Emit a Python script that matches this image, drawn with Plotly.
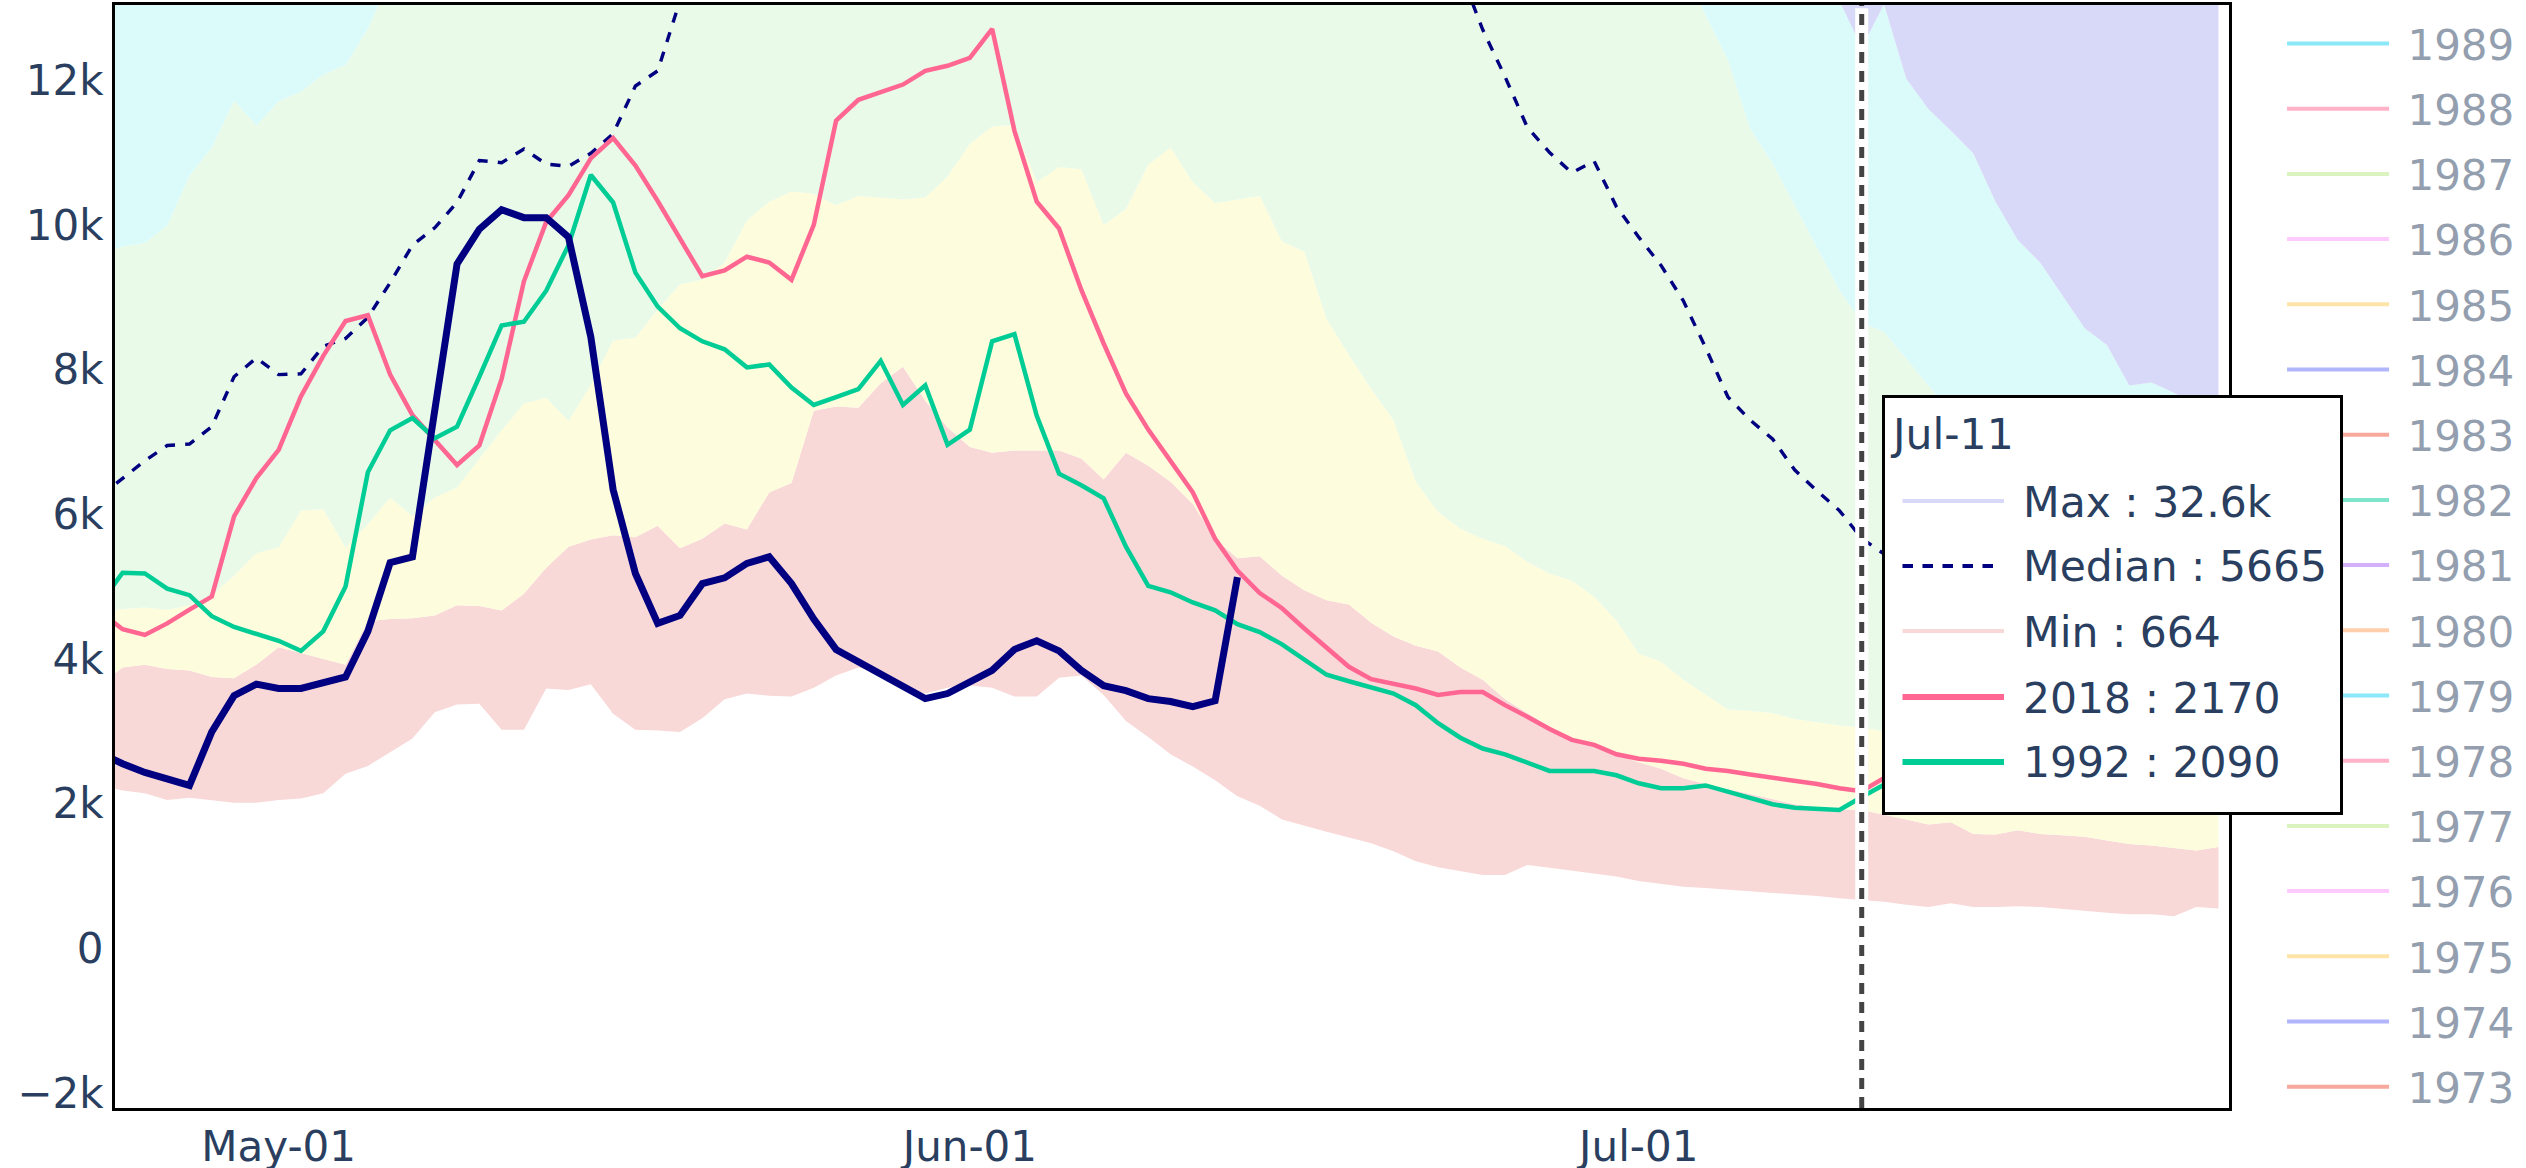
import numpy as np
import pandas as pd
import plotly.graph_objects as go

# daily values in thousands, Apr-23 .. Jul-27
dates = pd.date_range('2019-04-23', '2019-07-27', freq='D')

min_vals = [2.25, 2.18, 2.14, 2.05, 2.08, 2.05, 2.01, 2.01,
            2.05, 2.07, 2.14, 2.41, 2.52, 2.71, 2.90, 3.26, 3.37, 3.38, 3.02, 3.02, 3.59, 3.57, 3.65, 3.24,
            3.02, 3.01, 2.99, 3.18, 3.44, 3.52, 3.49, 3.48, 3.60, 3.77, 3.88, 3.80, 3.63, 3.52, 3.60,
            3.63, 3.60, 3.48, 3.48, 3.74, 3.77, 3.50, 3.14, 2.92, 2.68, 2.51, 2.32, 2.10, 1.97, 1.78,
            1.69, 1.61, 1.53, 1.45, 1.34, 1.20, 1.12, 1.07, 1.01, 1.01, 1.15, 1.11, 1.07, 1.03, 0.99,
            0.93, 0.89, 0.85, 0.83, 0.81, 0.78, 0.76, 0.74, 0.72, 0.69, 0.664, 0.64, 0.60, 0.57, 0.62,
            0.57, 0.57, 0.58, 0.57, 0.54, 0.51, 0.49, 0.47, 0.47, 0.44, 0.57, 0.55]
p10_vals = [3.65, 3.88, 3.92, 3.86, 3.84, 3.75, 3.73, 3.92,
            4.16, 4.08, 4.00, 3.92, 4.52, 4.55, 4.56, 4.60, 4.74, 4.73, 4.67, 4.90, 5.26, 5.55, 5.65, 5.71,
            5.68, 5.84, 5.53, 5.66, 5.87, 5.79, 6.30, 6.43, 7.43, 7.49, 7.47, 7.81, 8.04, 7.57, 7.20,
            6.93, 6.85, 6.88, 6.88, 6.88, 6.77, 6.48, 6.85, 6.67, 6.45, 6.14, 5.66, 5.39, 5.42, 5.15,
            4.95, 4.81, 4.75, 4.50, 4.31, 4.18, 4.10, 3.88, 3.71, 3.44, 3.25, 3.06, 2.90, 2.79, 2.68,
            2.57, 2.48, 2.35, 2.27, 2.20, 2.12, 2.05, 1.99, 1.95, 1.92, 1.91, 1.85, 1.78, 1.71, 1.74,
            1.58, 1.57, 1.63, 1.58, 1.56, 1.54, 1.49, 1.44, 1.42, 1.38, 1.35, 1.40]
p25_vals = [4.65, 4.69, 4.71, 4.68, 4.74, 4.88, 5.15, 5.46,
            5.54, 6.05, 6.07, 5.54, 5.86, 6.23, 5.97, 6.23, 6.37, 6.76, 7.16, 7.53, 7.61, 7.29, 7.79, 8.40,
            8.44, 8.83, 9.18, 9.24, 9.48, 10.06, 10.32, 10.46, 10.43, 10.27, 10.40, 10.38, 10.35, 10.38, 10.67,
            11.12, 11.36, 11.38, 10.59, 10.80, 10.77, 10.00, 10.22, 10.83, 11.07, 10.59, 10.30, 10.35, 10.40, 9.77,
            9.63, 8.70, 8.20, 7.73, 7.30, 6.45, 6.03, 5.80, 5.66, 5.56, 5.34, 5.18, 5.08, 4.86, 4.53,
            4.07, 3.96, 3.71, 3.50, 3.30, 3.28, 3.25, 3.17, 3.12, 3.08, 3.05, 3.00, 2.93, 2.91, 2.84,
            2.81, 2.74, 2.72, 2.66, 2.61, 2.57, 2.50, 2.47, 2.41, 2.38, 2.33, 2.31]
p75_vals = [9.60, 9.70, 9.75, 9.99, 10.68, 11.07, 11.72, 11.37,
            11.71, 11.84, 12.08, 12.21, 12.71, 13.40, 14.0, 14.5, 15.0, 15.6, 16.0, 16.5, 17.0, 17.3, 17.8, 18.4,
            19.0, 19.5, 20.0, 20.4, 20.8, 21.2, 21.6, 22.0, 22.3, 22.6, 22.8, 23.0, 23.1, 23.2, 23.2,
            23.1, 23.0, 22.8, 22.5, 22.2, 21.9, 21.5, 21.1, 20.7, 20.3, 19.9, 19.5, 19.0, 18.6, 18.2,
            17.8, 17.4, 17.0, 16.6, 16.3, 16.0, 15.7, 15.4, 15.1, 14.8, 14.6, 14.4, 14.2, 14.0, 13.9,
            13.8, 13.7, 13.55, 12.90, 12.28, 11.33, 10.85, 10.27, 9.69, 9.10, 8.65, 8.52, 8.15, 7.78, 7.40,
            7.00, 6.60, 6.30, 6.00, 5.70, 5.40, 5.20, 5.00, 4.80, 4.60, 4.40, 4.20]
p90_vals = [16.5, 16.8, 17.0, 17.4, 17.9, 18.3, 18.8, 19.0,
            19.3, 19.6, 20.0, 20.3, 20.8, 21.2, 21.7, 22.1, 22.6, 23.0, 23.5, 24.0, 24.5, 25.0, 25.4, 25.8,
            26.2, 26.6, 27.0, 27.3, 27.6, 27.9, 28.1, 28.3, 28.5, 28.6, 28.7, 28.8, 28.8, 28.7, 28.6,
            28.4, 28.2, 27.9, 27.6, 27.2, 26.8, 26.4, 26.0, 25.5, 25.0, 24.5, 24.0, 23.5, 23.0, 22.5,
            22.0, 21.5, 21.0, 20.5, 20.0, 19.5, 19.0, 18.5, 18.0, 17.6, 17.2, 16.8, 16.4, 16.0, 15.7,
            15.4, 15.1, 14.9, 14.7, 14.5, 14.4, 14.3, 14.2, 14.0, 13.10, 12.45, 13.05, 12.02, 11.60, 11.30,
            10.99, 10.32, 9.79, 9.48, 9.02, 8.57, 8.34, 7.78, 7.82, 7.68, 7.50, 7.40]
max_vals = [30.5, 31.0, 31.4, 31.9, 32.5, 33.0, 33.6, 34.0,
            34.5, 35.1, 35.8, 36.4, 37.0, 37.6, 38.3, 38.9, 39.5, 40.0, 40.6, 41.1, 41.5, 41.9, 42.2, 42.5,
            42.7, 42.9, 43.0, 43.1, 43.1, 43.0, 42.8, 42.6, 42.3, 42.0, 41.7, 41.3, 40.9, 40.5, 40.1,
            39.6, 39.1, 38.6, 38.1, 37.6, 37.1, 36.6, 36.2, 35.8, 35.4, 35.0, 34.7, 34.4, 34.1, 33.9,
            33.7, 33.5, 33.4, 33.3, 33.2, 33.1, 33.0, 32.95, 32.9, 32.85, 32.8, 32.78, 32.75, 32.72, 32.7,
            32.7, 32.68, 32.66, 32.65, 32.64, 32.63, 32.62, 32.61, 32.6, 32.6, 32.6, 32.0, 31.3, 30.5, 29.6,
            28.7, 27.8, 26.9, 26.0, 25.2, 24.4, 23.6, 22.9, 22.2, 21.5, 20.9, 20.3]
median_vals = [6.25, 6.50, 6.74, 6.95, 6.97, 7.21, 7.90, 8.16,
               7.93, 7.94, 8.32, 8.43, 8.72, 9.20, 9.72, 9.96, 10.31, 10.89, 10.86, 11.05, 10.84, 10.81, 10.99, 11.26,
               11.92, 12.13, 13.10, 13.7, 14.2, 14.6, 15.0, 15.3, 15.9, 16.4, 16.8, 17.1, 17.5, 17.8, 18.0,
               18.2, 18.0, 17.8, 17.9, 17.6, 17.3, 17.0, 16.8, 16.5, 16.2, 16.0, 15.7, 15.5, 15.3, 15.0,
               14.8, 14.6, 14.4, 14.2, 14.0, 13.8, 13.6, 13.5, 12.70, 12.05, 11.35, 11.00, 10.72, 10.88, 10.25,
               9.83, 9.44, 8.95, 8.30, 7.62, 7.30, 7.04, 6.61, 6.32, 6.05, 5.665, 5.45, 5.20, 5.00, 4.82,
               4.61, 4.47, 4.30, 4.16, 4.02, 3.91, 3.80, 3.72, 3.61, 3.52, 3.43, 3.35]
y2018 = [4.65, 4.41, 4.33, 4.49, 4.68, 4.86, 5.97, 6.50,
         6.89, 7.63, 8.19, 8.67, 8.75, 7.93, 7.37, 7.03, 6.68, 6.95, 7.87, 9.22, 10.04, 10.41, 10.92, 11.20,
         10.82, 10.33, 9.82, 9.29, 9.37, 9.56, 9.48, 9.24, 10.00, 11.44, 11.73, 11.83, 11.94, 12.13, 12.20,
         12.31, 12.71, 11.30, 10.32, 9.95, 9.10, 8.36, 7.67, 7.17, 6.74, 6.30, 5.66, 5.22, 4.91, 4.70,
         4.42, 4.15, 3.89, 3.72, 3.66, 3.59, 3.50, 3.54, 3.54, 3.36, 3.20, 3.03, 2.88, 2.81, 2.68,
         2.62, 2.59, 2.55, 2.48, 2.45, 2.40, 2.36, 2.32, 2.27, 2.21, 2.17, 2.35, 2.42, 2.50, 2.47,
         2.44, 2.52, 2.60, 2.55, 2.48, 2.45, 2.50, 2.58, 2.53, 2.47, 2.42, 2.40]
y1992 = [4.77, 5.19, 5.18, 4.97, 4.88, 4.59, 4.44, 4.35,
         4.25, 4.11, 4.38, 5.00, 6.58, 7.16, 7.33, 7.05, 7.21, 7.90, 8.61, 8.66, 9.09, 9.72, 10.69, 10.31,
         9.34, 8.87, 8.57, 8.39, 8.28, 8.03, 8.07, 7.75, 7.51, 7.62, 7.73, 8.12, 7.51, 7.78, 6.96,
         7.17, 8.39, 8.49, 7.36, 6.56, 6.40, 6.22, 5.55, 5.01, 4.92, 4.78, 4.67, 4.48, 4.37, 4.20,
         3.99, 3.78, 3.69, 3.60, 3.52, 3.36, 3.11, 2.91, 2.76, 2.68, 2.56, 2.45, 2.45, 2.45, 2.39,
         2.28, 2.21, 2.21, 2.25, 2.16, 2.08, 1.99, 1.94, 1.92, 1.91, 2.09, 2.26, 2.30, 2.35, 2.33,
         2.30, 2.28, 2.32, 2.36, 2.30, 2.25, 2.22, 2.20, 2.24, 2.20, 2.15, 2.12]
# current year, Apr-23 .. Jun-13
y_current = [2.70, 2.55, 2.43, 2.33, 2.25, 2.99, 3.49, 3.65,
             3.59, 3.59, 3.67, 3.75, 4.38, 5.33, 5.41, 7.40, 9.46, 9.94, 10.21, 10.10, 10.10, 9.83, 8.45, 6.34,
             5.18, 4.49, 4.60, 5.04, 5.12, 5.32, 5.41, 5.04, 4.55, 4.13, 3.96, 3.79, 3.62, 3.45, 3.52,
             3.67, 3.84, 4.13, 4.25, 4.11, 3.84, 3.63, 3.56, 3.45, 3.41, 3.34, 3.42, 5.13]

legend_years = [1989, 1988, 1987, 1986, 1985, 1984, 1983, 1982, 1981, 1980, 1979, 1978, 1977, 1976, 1975, 1974, 1973]
hover_day = '2019-07-11'
hover_title = 'Jul-11'
hover_labels = ['Max : 32.6k', 'Median : 5665', 'Min : 664', '2018 : 2170', '1992 : 2090']

colorway = ['#636EFA', '#EF553B', '#00CC96', '#AB63FA', '#FFA15A',
            '#19D3F3', '#FF6692', '#B6E880', '#FF97FF', '#FECB52']
nbsp = '\u00a0'

fig = go.Figure()

# filled bands, bottom to top
fig.add_trace(go.Scatter(x=dates, y=np.array(min_vals) * 1000, mode='lines',
                         line=dict(width=0, color='#f9d8d8'), showlegend=False, hoverinfo='skip'))
band_tops = [p10_vals, p25_vals, p75_vals, p90_vals, max_vals]
band_cols = ['#f9d8d8', '#fdfcdc', '#eafae8', '#dbfafa', '#d8d8f8']
for vals, col in zip(band_tops, band_cols):
    fig.add_trace(go.Scatter(x=dates, y=np.array(vals) * 1000, mode='lines',
                             line=dict(width=0, color=col), fill='tonexty', fillcolor=col,
                             showlegend=False, hoverinfo='skip'))

fig.add_trace(go.Scatter(x=dates, y=np.array(median_vals) * 1000, mode='lines',
                         line=dict(color='#000080', width=3.4, dash='dash'), showlegend=False))
fig.add_trace(go.Scatter(x=dates, y=np.array(y2018) * 1000, mode='lines',
                         line=dict(color=colorway[6], width=4.5), showlegend=False))
fig.add_trace(go.Scatter(x=dates, y=np.array(y1992) * 1000, mode='lines',
                         line=dict(color=colorway[2], width=4.5), showlegend=False))
fig.add_trace(go.Scatter(x=dates[:len(y_current)], y=np.array(y_current) * 1000, mode='lines',
                         line=dict(color='#000080', width=7), showlegend=False))

# year legend (hidden traces)
for yr in legend_years:
    fig.add_trace(go.Scatter(x=[None], y=[None], mode='lines', name=nbsp + str(yr),
                             legendgroup=str(yr), visible='legendonly',
                             line=dict(color=colorway[(1984 - yr) % 10], width=4)))


# pixel -> paper helpers for the hover box (plot area 115..2229 x 5..1108)
def px(X):
    return (X - 115) / 2114


def py(Y):
    return (1108 - Y) / 1103


ann = [dict(xref='paper', yref='paper', x=px(1882), y=py(395), xanchor='left', yanchor='top',
            text=nbsp, width=455, height=414, bgcolor='white', bordercolor='black',
            borderwidth=3, borderpad=0, showarrow=False),
       dict(xref='paper', yref='paper', x=px(1888), y=py(435), xanchor='left', yanchor='middle',
            text=hover_title, showarrow=False, font=dict(size=42.5, color='#2a3f5f'))]
row_y = [501, 566, 631, 697, 762]
sample_cols = ['#d8d8f8', '#000080', '#f9d8d8', colorway[6], colorway[2]]
sample_w = [4, 4, 4, 6, 6]
for lab, yy, col, w in zip(hover_labels, row_y, sample_cols, sample_w):
    ann.append(dict(xref='paper', yref='paper', x=px(2021), y=py(yy + 1), xanchor='left',
                    yanchor='middle', text=lab, showarrow=False,
                    font=dict(size=42.5, color='#2a3f5f')))
    if lab.startswith('Median'):
        for x_end in [1913, 1933, 1953, 1973, 1993]:
            ann.append(dict(xref='paper', yref='paper', x=px(x_end), y=py(yy), ax=-12, ay=0,
                            text='', showarrow=True, arrowhead=0, arrowwidth=w, arrowcolor=col,
                            standoff=0, startstandoff=0, font=dict(size=1)))
    else:
        ann.append(dict(xref='paper', yref='paper', x=px(2004), y=py(yy), ax=-103, ay=0,
                        text='', showarrow=True, arrowhead=0, arrowwidth=w, arrowcolor=col,
                        standoff=0, startstandoff=0, font=dict(size=1)))

fig.update_layout(
    width=2526, height=1168,
    margin=dict(l=115, r=297, t=5, b=60, autoexpand=False),
    paper_bgcolor='white', plot_bgcolor='white',
    font=dict(family='Verdana, DejaVu Sans, sans-serif', size=42, color='#2a3f5f'),
    xaxis=dict(range=['2019-04-23 15:50', '2019-07-27 11:20'], tickformat='%b-%d',
               dtick='M1', tick0='2019-05-01', showgrid=False, zeroline=False,
               showline=True, linecolor='black', linewidth=3, mirror=True, ticks=''),
    yaxis=dict(range=[-2210, 13040], dtick=2000, showgrid=False, zeroline=False,
               showline=True, linecolor='black', linewidth=3, mirror=True, ticks=''),
    legend=dict(x=1.0251, y=0.99574, xanchor='left', yanchor='top', bgcolor='rgba(0,0,0,0)',
                borderwidth=0, itemwidth=102, tracegroupgap=7.6, maxheight=1160,
                font=dict(size=42)),
    shapes=[dict(type='line', xref='x', yref='paper', x0=hover_day, x1=hover_day, y0=0.003, y1=0.997,
                 line=dict(color='white', width=13)),
            dict(type='line', xref='x', yref='paper', x0=hover_day, x1=hover_day, y0=0, y1=1,
                 line=dict(color='#444444', width=5, dash='11px,8px'))],
    annotations=ann,
)

fig.write_html("out.html", config={'displayModeBar': False},
               post_script="document.body.style.margin='0px';")
